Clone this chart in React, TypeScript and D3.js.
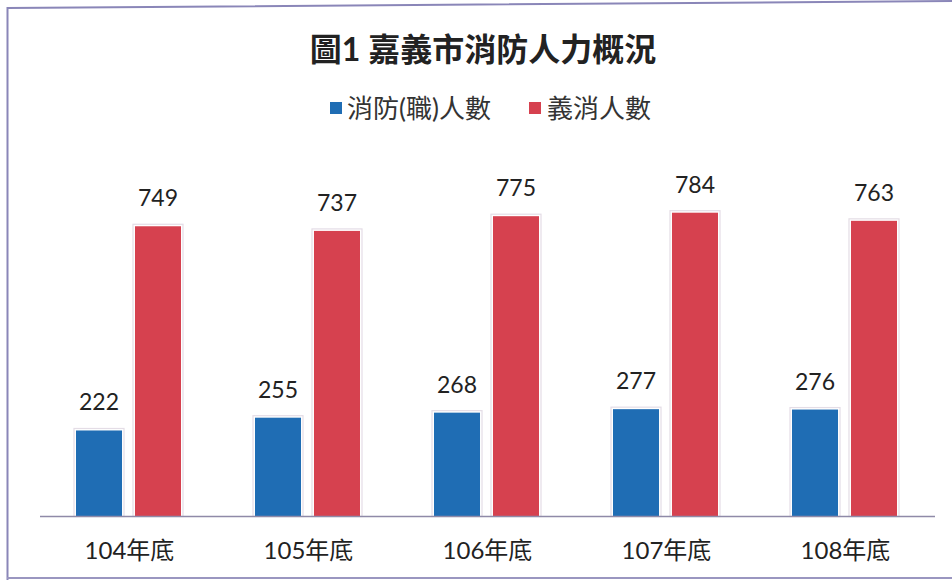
import React from "react";
import * as d3 from "d3";

const categories = ["104年底", "105年底", "106年底", "107年底", "108年底"];
const seriesNames = ["消防(職)人數", "義消人數"];
const firefighters = [222, 255, 268, 277, 276];
const volunteers = [749, 737, 775, 784, 763];
const colors = ["#1f6db4", "#d6414f"];
const title = "圖1 嘉義市消防人力概況";

const W = 952;
const H = 582;
const FONT = "Lato, 'Noto Sans CJK TC', sans-serif";

export default function App() {
  const baseline = 516.5;
  const x0 = d3.scaleBand<string>().domain(categories).range([40, 935]).paddingInner(0).paddingOuter(0);
  const x1 = d3.scaleBand<string>().domain(seriesNames).range([36, 141]).paddingInner(0.22).paddingOuter(0);
  const y = d3.scaleLinear().domain([0, 800]).range([baseline, baseline - 310]);
  const series = [firefighters, volunteers];

  return (
    <svg width={W} height={H} style={{ position: "absolute", left: 0, top: 0, background: "#fff" }}>
      <rect x={0} y={0} width={W} height={H} fill="#fff" />
      <path d="M7.5,580 L7.5,8 L952,1" fill="none" stroke="#8a86b8" strokeWidth={2} />
      <line x1={7} y1={578} x2={952} y2={578} stroke="#9a96c0" strokeWidth={2} />
      <text x={483} y={61} textAnchor="middle" fontFamily={FONT} fontWeight="bold" fontSize={32} fill="#222">
        {title}
      </text>
      <g fontFamily={FONT} fontSize={26} fill="#333">
        <rect x={330} y={102} width={12} height={12} fill={colors[0]} />
        <text x={347} y={118}>{seriesNames[0]}</text>
        <rect x={529} y={102} width={12} height={12} fill={colors[1]} />
        <text x={547} y={118}>{seriesNames[1]}</text>
      </g>
      {categories.map((c, i) => (
        <g key={c} transform={`translate(${x0(c)},0)`}>
          {series.map((s, j) => {
            const bx = x1(seriesNames[j])!;
            const bw = x1.bandwidth();
            const top = y(s[i]);
            return (
              <g key={j}>
                <rect x={bx - 2} y={top - 2} width={bw + 4} height={baseline - top + 2} fill="none" stroke="#e4dde6" strokeWidth={1.2} />
                <rect x={bx} y={top} width={bw} height={baseline - top} fill={colors[j]} />
                <text x={bx + bw / 2} y={top - 20} textAnchor="middle" fontFamily={FONT} fontSize={23} fill="#222">
                  {s[i]}
                </text>
              </g>
            );
          })}
          <text x={x0.bandwidth() / 2} y={559} textAnchor="middle" fontFamily={FONT} fontSize={24} fill="#222">
            {c}
          </text>
        </g>
      ))}
      <line x1={40} y1={baseline} x2={935} y2={baseline} stroke="#8f8aa8" strokeWidth={1.5} />
    </svg>
  );
}
